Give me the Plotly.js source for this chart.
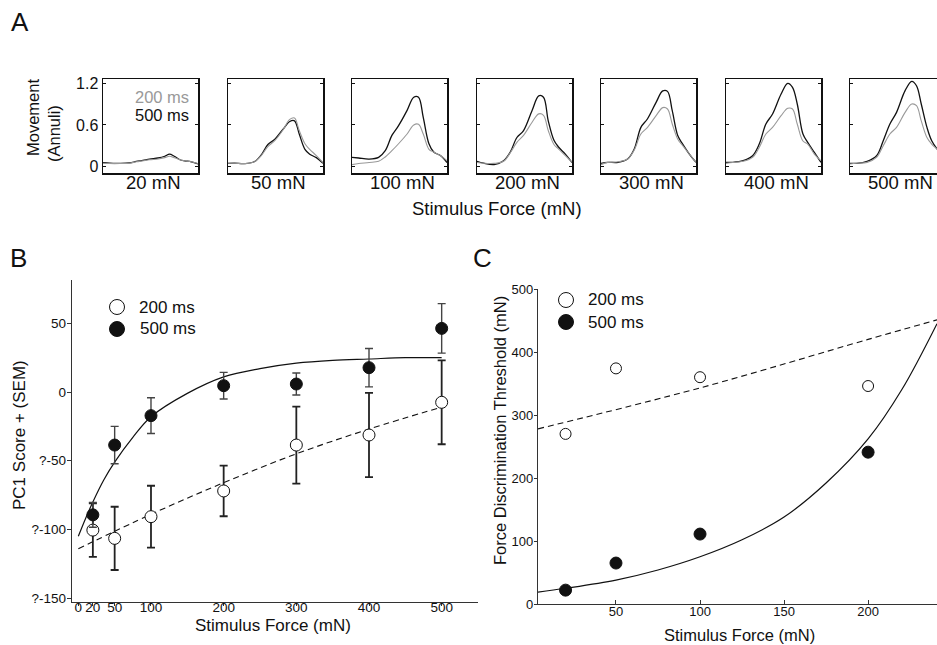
<!DOCTYPE html>
<html><head><meta charset="utf-8">
<script src="https://cdn.plot.ly/plotly-3.0.1.min.js"></script>
<style>html,body{margin:0;padding:0;background:#fff}#chart{width:937px;height:645px}</style>
</head><body><div id="chart"></div>
<script>
// ---------- Panel A data (movement traces, time in % of window) ----------
const aTime = [0, 7, 18, 28, 35, 42, 49, 58, 65, 70, 75, 81, 86, 93, 100];
const aLabels = ['20 mN', '50 mN', '100 mN', '200 mN', '300 mN', '400 mN', '500 mN'];
const move500_20  = [0.058, 0.05, 0.048, 0.055, 0.075, 0.09, 0.11, 0.125, 0.15, 0.18, 0.15, 0.10, 0.085, 0.07, 0.04];
const move200_20  = [0.05, 0.045, 0.045, 0.05, 0.07, 0.085, 0.10, 0.11, 0.13, 0.15, 0.13, 0.10, 0.085, 0.07, 0.045];
const move500_50  = [0.048, 0.05, 0.045, 0.075, 0.17, 0.32, 0.39, 0.54, 0.65, 0.66, 0.47, 0.25, 0.18, 0.13, 0.05];
const move200_50  = [0.05, 0.05, 0.045, 0.07, 0.16, 0.29, 0.37, 0.53, 0.68, 0.70, 0.52, 0.33, 0.25, 0.16, 0.06];
const move500_100 = [0.134, 0.125, 0.11, 0.134, 0.23, 0.45, 0.59, 0.81, 1.0, 1.0, 0.71, 0.33, 0.21, 0.16, 0.06];
const move200_100 = [0.03, 0.045, 0.06, 0.077, 0.14, 0.23, 0.33, 0.47, 0.60, 0.61, 0.47, 0.25, 0.21, 0.16, 0.086];
const move500_200 = [0.077, 0.05, 0.03, 0.086, 0.21, 0.42, 0.52, 0.81, 1.02, 1.0, 0.66, 0.38, 0.28, 0.18, 0.06];
const move200_200 = [0.06, 0.05, 0.048, 0.077, 0.20, 0.35, 0.45, 0.64, 0.76, 0.74, 0.52, 0.32, 0.254, 0.158, 0.062];
const move500_300 = [0.048, 0.062, 0.062, 0.11, 0.254, 0.566, 0.69, 0.926, 1.09, 1.084, 0.806, 0.44, 0.326, 0.182, 0.062];
const move200_300 = [0.029, 0.062, 0.07, 0.11, 0.24, 0.47, 0.566, 0.734, 0.85, 0.83, 0.614, 0.39, 0.302, 0.182, 0.062];
const move500_400 = [0.062, 0.062, 0.086, 0.158, 0.326, 0.614, 0.758, 1.046, 1.199, 1.141, 0.902, 0.47, 0.35, 0.206, 0.062];
const move200_400 = [0.048, 0.06, 0.077, 0.134, 0.278, 0.47, 0.566, 0.734, 0.84, 0.83, 0.614, 0.37, 0.326, 0.182, 0.086];
const move500_500 = [0.048, 0.048, 0.077, 0.158, 0.374, 0.614, 0.782, 1.094, 1.228, 1.165, 0.902, 0.566, 0.374, 0.23, 0.11];
const move200_500 = [0.038, 0.05, 0.062, 0.134, 0.302, 0.47, 0.566, 0.782, 0.902, 0.878, 0.66, 0.42, 0.326, 0.23, 0.11];
const aYTicks = [0, 0.6, 1.2];
const aYTickText = ['0', '0.6', '1.2'];

// ---------- Panel B data ----------
const bForce = [20, 50, 100, 200, 300, 400, 500];
const bScore200 = [-100.5, -106.5, -90.7, -72, -38.6, -31.3, -7.5];
const bSem200   = [19.5, 23, 22.5, 18.4, 28, 30.7, 30.5];
const bScore500 = [-89.4, -38.6, -17.2, 4.6, 5.8, 17.7, 46.3];
const bSem500   = [9, 13.6, 13, 9.7, 8, 14, 18];
const bFit500X = [0, 10, 20, 35, 50, 75, 100, 150, 200, 250, 300, 350, 400, 450, 500];
const bFit500  = [-105, -92, -80, -64, -51, -33, -18, -1, 11, 17, 21, 23, 24, 25, 25];
const bFit200X = [0, 100, 200, 300, 400, 500];
const bFit200  = [-114, -89, -66, -45, -27, -11];
const bXTicks = [0, 20, 50, 100, 200, 300, 400, 500];
const bYTicks = [50, 0, -50, -100, -150];
const bYTickText = ['50', '0', '?-50', '?-100', '?-150'];

// ---------- Panel C data ----------
const cForce = [20, 50, 100, 200];
const cThr200 = [270, 374, 360, 346];
const cThr500 = [22, 65, 111, 241];
const cFit500X = [3.6, 20, 50, 75, 100, 125, 150, 175, 200, 220, 241];
const cFit500  = [19, 25, 38, 54, 75, 102, 138, 192, 262, 340, 445];
const cFit200X = [3.6, 100, 200, 241];
const cFit200  = [278, 343, 420, 451];
const cXTicks = [50, 100, 150, 200];
const cYTicks = [0, 100, 200, 300, 400, 500];

// ---------- build ----------
const W = 937, H = 645;
const fx = x => x / W, fy = y => 1 - y / H;
const FONT = 'Liberation Sans, Arial, Helvetica, sans-serif';
const traces = [];
const annotations = [];
const shapes = [];
const layout = {
  width: W, height: H, margin: {l: 0, r: 0, t: 0, b: 0},
  paper_bgcolor: '#fff', plot_bgcolor: 'rgba(0,0,0,0)',
  showlegend: false, font: {family: FONT, color: '#111'},
  annotations: annotations, shapes: shapes
};

const a500 = [move500_20, move500_50, move500_100, move500_200, move500_300, move500_400, move500_500];
const a200 = [move200_20, move200_50, move200_100, move200_200, move200_300, move200_400, move200_500];
const aLeft = [103, 228, 352, 477, 601, 726, 850], aW = 95, aTop = 79, aBot = 173;
for (let i = 0; i < 7; i++) {
  const n = i + 1, xa = 'x' + (n === 1 ? '' : n), ya = 'y' + (n === 1 ? '' : n);
  const right = Math.min(aLeft[i] + aW, W);
  const xr = (right - aLeft[i]) / aW * 100;
  layout['xaxis' + (n === 1 ? '' : n)] = {
    domain: [fx(aLeft[i]), fx(right)], range: [0, xr], anchor: ya,
    showline: true, mirror: true, linecolor: '#111', linewidth: 1.5,
    showticklabels: false, ticks: '', showgrid: false, zeroline: false, fixedrange: true
  };
  layout['yaxis' + (n === 1 ? '' : n)] = {
    domain: [fy(aBot), fy(aTop)], range: [-0.091, 1.262], anchor: xa,
    showline: true, mirror: (i < 6) ? 'ticks' : false, linecolor: '#111', linewidth: 1.5,
    tickvals: aYTicks, ticktext: aYTickText, ticks: 'inside', ticklen: 3, tickcolor: '#111',
    showticklabels: i === 0, tickfont: {size: 16, family: FONT, color: '#111'},
    showgrid: false, zeroline: false, fixedrange: true
  };
  traces.push({x: aTime, y: a500[i], xaxis: xa, yaxis: ya, mode: 'lines',
    line: {color: '#111', width: 1.3, shape: 'spline', smoothing: 1}, hoverinfo: 'skip'});
  traces.push({x: aTime, y: a200[i], xaxis: xa, yaxis: ya, mode: 'lines',
    line: {color: '#999', width: 1.1, shape: 'spline', smoothing: 1}, hoverinfo: 'skip'});
  annotations.push({text: aLabels[i], xref: 'paper', yref: 'paper', x: fx(aLeft[i] + aW / 2 + 3), y: fy(183),
    xanchor: 'center', yanchor: 'middle', showarrow: false, font: {size: 18.5, family: FONT, color: '#111'}});
}
annotations.push({text: '200 ms', xref: 'paper', yref: 'paper', x: fx(191), y: fy(97), xanchor: 'right', yanchor: 'middle',
  showarrow: false, font: {size: 16.5, family: FONT, color: '#999'}});
annotations.push({text: '500 ms', xref: 'paper', yref: 'paper', x: fx(191), y: fy(115), xanchor: 'right', yanchor: 'middle',
  showarrow: false, font: {size: 16.5, family: FONT, color: '#111'}});
annotations.push({text: 'Stimulus Force (mN)', xref: 'paper', yref: 'paper', x: fx(497), y: fy(208), xanchor: 'center', yanchor: 'middle',
  showarrow: false, font: {size: 18.5, family: FONT, color: '#111'}});
annotations.push({text: 'Movement', xref: 'paper', yref: 'paper', x: fx(33), y: fy(118), xanchor: 'center', yanchor: 'middle',
  textangle: -90, showarrow: false, font: {size: 16.5, family: FONT, color: '#111'}});
annotations.push({text: '(Annuli)', xref: 'paper', yref: 'paper', x: fx(54), y: fy(134), xanchor: 'center', yanchor: 'middle',
  textangle: -90, showarrow: false, font: {size: 16.5, family: FONT, color: '#111'}});

// Panel B
layout.xaxis8 = {domain: [fx(72), fx(478)], range: [-8.7, 550], anchor: 'y8',
  showline: true, linecolor: '#333', linewidth: 1.2, tickvals: bXTicks, ticks: 'outside', ticklen: 3, tickcolor: '#333',
  ticklabelstandoff: -10,
  tickfont: {size: 13.5, family: FONT, color: '#111'}, showgrid: false, zeroline: false, fixedrange: true};
layout.yaxis8 = {domain: [fy(602), fy(280)], range: [-152.8, 81.5], anchor: 'x8',
  showline: true, linecolor: '#333', linewidth: 1.2, tickvals: bYTicks, ticktext: bYTickText, ticks: 'outside', ticklen: 4, tickcolor: '#333',
  ticklabelstandoff: -2,
  tickfont: {size: 13.5, family: FONT, color: '#111'}, showgrid: false, zeroline: false, fixedrange: true};
traces.push({x: bFit200X, y: bFit200, xaxis: 'x8', yaxis: 'y8', mode: 'lines',
  line: {color: '#111', width: 1.1, dash: '6px,4px', shape: 'spline'}, hoverinfo: 'skip'});
traces.push({x: bFit500X, y: bFit500, xaxis: 'x8', yaxis: 'y8', mode: 'lines',
  line: {color: '#111', width: 1.2, shape: 'spline'}, hoverinfo: 'skip'});
traces.push({x: bForce, y: bScore200, xaxis: 'x8', yaxis: 'y8', mode: 'markers',
  error_y: {type: 'data', array: bSem200, color: '#222', thickness: 1.8, width: 4},
  marker: {symbol: 'circle', size: 12, color: '#fff', line: {color: '#111', width: 1}}});
traces.push({x: bForce, y: bScore500, xaxis: 'x8', yaxis: 'y8', mode: 'markers',
  error_y: {type: 'data', array: bSem500, color: '#444', thickness: 1.4, width: 4},
  marker: {symbol: 'circle', size: 12, color: '#111', line: {color: '#111', width: 1}}});
annotations.push({text: 'Stimulus Force (mN)', xref: 'paper', yref: 'paper', x: fx(273), y: fy(625), xanchor: 'center', yanchor: 'middle',
  showarrow: false, font: {size: 17, family: FONT, color: '#111'}});
annotations.push({text: 'PC1 Score + (SEM)', xref: 'paper', yref: 'paper', x: fx(19), y: fy(435), xanchor: 'center', yanchor: 'middle',
  textangle: -90, showarrow: false, font: {size: 17, family: FONT, color: '#111'}});

// Panel C
layout.xaxis9 = {domain: [fx(538), 1], range: [3.6, 241], anchor: 'y9',
  showline: true, linecolor: '#333', linewidth: 1.2, tickvals: cXTicks, ticks: 'inside', ticklen: 4, tickcolor: '#333',
  ticklabelstandoff: -5,
  tickfont: {size: 13, family: FONT, color: '#111'}, showgrid: false, zeroline: false, fixedrange: true};
layout.yaxis9 = {domain: [fy(604), fy(289)], range: [0, 500], anchor: 'x9',
  showline: true, linecolor: '#333', linewidth: 1.2, tickvals: cYTicks, ticks: 'outside', ticklen: 3, tickcolor: '#333',
  ticklabelstandoff: -2,
  tickfont: {size: 13, family: FONT, color: '#111'}, showgrid: false, zeroline: false, fixedrange: true};
traces.push({x: cFit200X, y: cFit200, xaxis: 'x9', yaxis: 'y9', mode: 'lines',
  line: {color: '#111', width: 1.1, dash: '6px,4px', shape: 'spline'}, hoverinfo: 'skip'});
traces.push({x: cFit500X, y: cFit500, xaxis: 'x9', yaxis: 'y9', mode: 'lines',
  line: {color: '#111', width: 1.2, shape: 'spline'}, hoverinfo: 'skip'});
traces.push({x: cForce, y: cThr200, xaxis: 'x9', yaxis: 'y9', mode: 'markers',
  marker: {symbol: 'circle', size: 11, color: '#fff', line: {color: '#111', width: 1}}});
traces.push({x: cForce, y: cThr500, xaxis: 'x9', yaxis: 'y9', mode: 'markers',
  marker: {symbol: 'circle', size: 12, color: '#111', line: {color: '#111', width: 1}}});
annotations.push({text: 'Stimulus Force (mN)', xref: 'paper', yref: 'paper', x: fx(739), y: fy(635), xanchor: 'center', yanchor: 'middle',
  showarrow: false, font: {size: 16.5, family: FONT, color: '#111'}});
annotations.push({text: 'Force Discrimination Threshold (mN)', xref: 'paper', yref: 'paper', x: fx(500), y: fy(430), xanchor: 'center', yanchor: 'middle',
  textangle: -90, showarrow: false, font: {size: 16.5, family: FONT, color: '#111'}});

// Legends B and C
function legendItem(cx, cy, filled, label, tx) {
  shapes.push({type: 'circle', xref: 'paper', yref: 'paper', xsizemode: 'pixel', ysizemode: 'pixel',
    xanchor: fx(cx), yanchor: fy(cy), x0: -7.5, x1: 7.5, y0: -7.5, y1: 7.5,
    fillcolor: filled ? '#111' : '#fff', line: {color: '#111', width: 1}});
  annotations.push({text: label, xref: 'paper', yref: 'paper', x: fx(tx), y: fy(cy), xanchor: 'left', yanchor: 'middle',
    showarrow: false, font: {size: 17, family: FONT, color: '#111'}});
}
legendItem(117, 307, false, '200 ms', 137);
legendItem(117, 329, true, '500 ms', 138);
legendItem(566, 300, false, '200 ms', 586);
legendItem(566, 322, true, '500 ms', 586);

// Panel letters
[['A', 20, 22], ['B', 18, 258], ['C', 482, 258]].forEach(([t, x, y]) => {
  annotations.push({text: t, xref: 'paper', yref: 'paper', x: fx(x), y: fy(y), xanchor: 'center', yanchor: 'middle',
    showarrow: false, font: {size: 26, family: FONT, color: '#111'}});
});

Plotly.newPlot('chart', traces, layout, {staticPlot: true, displayModeBar: false});
</script></body></html>
